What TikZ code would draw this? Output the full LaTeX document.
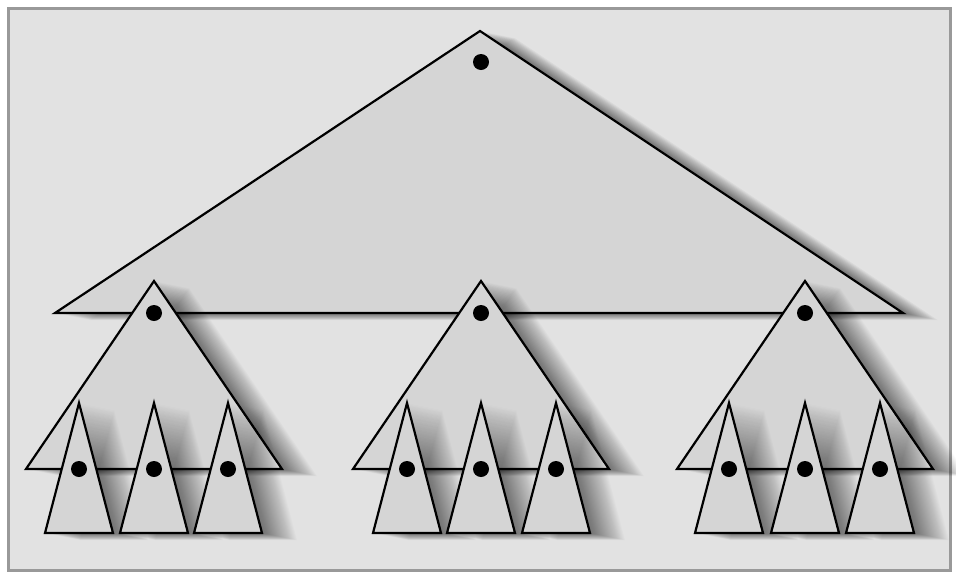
\documentclass[tikz,border=0pt]{standalone}
\definecolor{bgc}{HTML}{E2E2E2}
\definecolor{framec}{HTML}{999999}
\definecolor{trifill}{HTML}{D5D5D5}
\tikzset{
  tri/.style={draw=black, line width=2.2pt, line join=miter, fill=trifill},
  shadowlayer/.style={fill=black, opacity=0.014},
  dot/.style={circle, fill=black, minimum size=16pt, inner sep=0pt}
}
\newcommand\mytri[3]{%
  \foreach \k in {2,...,35}{\fill[shadowlayer, shift={(\k,0.2*\k)}] #1 -- #2 -- #3 -- cycle;}
  \draw[tri] #1 -- #2 -- #3 -- cycle;}
\begin{document}
\begin{tikzpicture}[x=1pt,y=-1pt]
\useasboundingbox (0,0) rectangle (956,574);
\fill[white] (0,0) rectangle (956,574);
\draw[framec, line width=3pt, fill=bgc] (8.5,8.5) rectangle (950.5,570.5);
% root
\mytri{(480,31)}{(903,313)}{(55,313)}
\node[dot] (root) at (481,62) {};
% middle level
\foreach \n/\cx in {a/154, b/481, c/805}{
  \mytri{(\cx,281)}{(\cx+128,469)}{(\cx-128,469)}
  \node[dot] (m\n) at (\cx,313) {};
}
% leaves
\foreach \n/\cx in {a1/79, a2/154, a3/228, b1/407, b2/481, b3/556, c1/729, c2/805, c3/880}{
  \mytri{(\cx,403)}{(\cx+34,533)}{(\cx-34,533)}
  \node[dot] (l\n) at (\cx,469) {};
}
\end{tikzpicture}
\end{document}
